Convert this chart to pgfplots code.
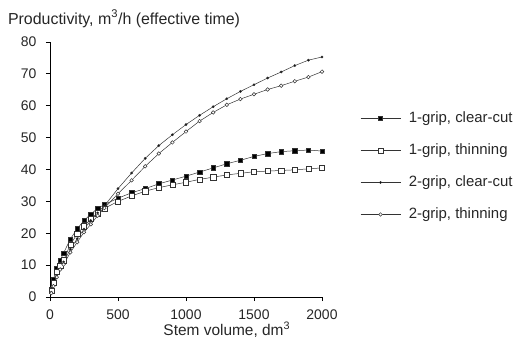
\documentclass[border=0pt]{standalone}
\usepackage{pgfplots}
\pgfplotsset{compat=1.18}
\usepackage{fontspec}
\setmainfont{Liberation Sans}
\begin{document}
\begin{tikzpicture}
\path[use as bounding box] (-50bp,-41bp) rectangle (465bp,297bp);
\begin{axis}[
  at={(0,0)}, anchor=origin,
  scale only axis, width=272bp, height=255bp,
  xmin=0, xmax=2000, ymin=0, ymax=80,
  axis x line*=bottom, axis y line*=left,
  axis line style={line width=1pt, -},
  xtick={0,500,1000,1500,2000}, ytick={0,10,...,80},
  tick align=outside, major tick length=4bp,
  tick style={line width=0.8pt, black},
  /pgf/number format/assume math mode=true,
  /pgf/number format/set thousands separator={},
  ticklabel style={font=\fontsize{14}{16}\selectfont, text=black!85},
  yticklabel style={xshift=-6bp},
  xticklabel style={yshift=-5bp},
  clip=false,
  legend style={draw=none, fill=none, at={(1.14,0.738)}, anchor=north west,
    font=\fontsize{15}{18}\selectfont, text=black!85, row sep=13bp, inner sep=0pt,
    nodes={text height=11.5bp, text depth=3.5bp},
    /tikz/every odd column/.append style={column sep=6bp},
    legend cell align=left},
  legend image code/.code={\draw[mark repeat=2,mark phase=2] plot coordinates {(0bp,0bp)(20bp,0bp)(40bp,0bp)};},
  every axis plot/.append style={line width=0.5pt, black!80},
]
\addplot[mark=square*, mark size=2.2bp, mark options={fill=black}] coordinates {
(10,2.5)(25,5.5)(50,9)(75,11.5)(100,13.8)(150,18.2)(200,21.4)(250,24)(300,26)(350,27.8)(400,29)
(500,31)(600,32.7)(700,34)(800,35.5)(900,36.7)(1000,37.9)(1100,39.2)(1200,40.5)(1300,41.8)(1400,42.9)
(1500,44.1)(1600,45)(1700,45.6)(1800,45.9)(1900,46.1)(2000,45.8)};
\addlegendentry{1-grip, clear-cut}
\addplot[mark=square*, mark size=2.6bp, mark options={fill=white}] coordinates {
(10,1.9)(25,4.5)(50,7.8)(75,9.8)(100,11.5)(150,16.5)(200,19.8)(250,22.2)(300,24.5)(350,26.3)(400,27.8)
(500,30)(600,31.7)(700,33.2)(800,34.3)(900,35.2)(1000,36)(1100,36.9)(1200,37.6)(1300,38.3)(1400,38.8)
(1500,39.3)(1600,39.5)(1700,39.7)(1800,39.9)(1900,40.2)(2000,40.5)};
\addlegendentry{1-grip, thinning}
\addplot[mark=*, mark size=1.1bp, mark options={fill=black}] coordinates {
(10,1.5)(25,3.5)(50,6.5)(75,8.8)(100,11)(150,15)(200,18.3)(250,21.3)(300,24)(350,26.4)(400,28.6)
(500,34)(600,38.9)(700,43.5)(800,47.5)(900,50.9)(1000,54.1)(1100,57)(1200,59.7)(1300,62.2)(1400,64.5)
(1500,66.6)(1600,68.7)(1700,70.6)(1800,72.6)(1900,74.3)(2000,75.3)};
\addlegendentry{2-grip, clear-cut}
\addplot[mark=*, mark size=1.8bp, mark options={fill=white}] coordinates {
(10,1.2)(25,3.4)(50,6.2)(75,8.6)(100,10.2)(150,14)(200,17.2)(250,20.3)(300,22.8)(350,25.5)(400,27.9)
(500,32.4)(600,36.6)(700,41)(800,45)(900,48.5)(1000,51.9)(1100,55.2)(1200,57.9)(1300,60.3)(1400,62.1)
(1500,63.6)(1600,65.1)(1700,66.3)(1800,67.7)(1900,69)(2000,70.7)};
\addlegendentry{2-grip, thinning}
\node[anchor=base west, font=\fontsize{16}{18}\selectfont, text=black!85, inner sep=0pt]
  at (rel axis cs:-0.155,1.07) {Productivity, m\textsuperscript{3}/h (effective time)};
\node[anchor=base, font=\fontsize{15.5}{18}\selectfont, text=black!85, inner sep=0pt]
  at (rel axis cs:0.65,0) [yshift=-38bp] {Stem volume, dm\textsuperscript{3}};
\end{axis}
\end{tikzpicture}
\end{document}
